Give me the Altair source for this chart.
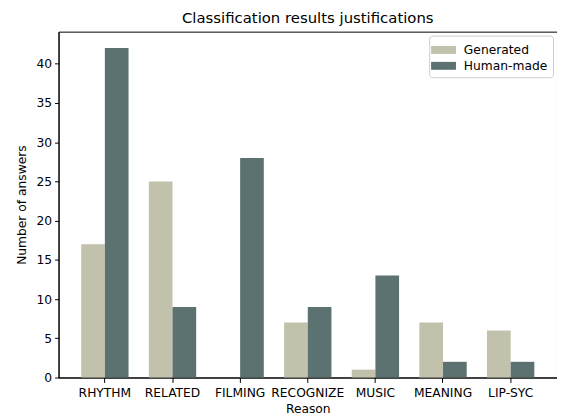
import altair as alt
import pandas as pd

reasons = ["RHYTHM", "RELATED", "FILMING", "RECOGNIZE", "MUSIC", "MEANING", "LIP-SYC"]
generated = [17, 25, 0, 7, 1, 7, 6]
human_made = [42, 9, 28, 9, 13, 2, 2]
series = ["Generated", "Human-made"]
colors = ["#c2c2ac", "#5b7270"]

rows = []
for r, g, h in zip(reasons, generated, human_made):
    rows.append({"reason": r, "series": "Generated", "value": g})
    rows.append({"reason": r, "series": "Human-made", "value": h})
df = pd.DataFrame(rows)

font = "DejaVu Sans"
fs = 12.4

chart = alt.Chart(df).mark_bar().encode(
    x=alt.X("reason:N", sort=reasons, title="Reason",
            scale=alt.Scale(paddingInner=0.3, paddingOuter=0.335),
            axis=alt.Axis(labelAngle=0, tickSize=5, domainColor="black", tickColor="black",
                          labelColor="black", labelFontSize=fs, titleFontSize=fs,
                          titleFontWeight="normal", labelPadding=4, titlePadding=4)),
    xOffset=alt.XOffset("series:N", sort=series, scale=alt.Scale(paddingInner=0, paddingOuter=0)),
    y=alt.Y("value:Q", title="Number of answers",
            scale=alt.Scale(domain=[0, 44.1], nice=False),
            axis=alt.Axis(values=[0, 5, 10, 15, 20, 25, 30, 35, 40], grid=False, tickSize=4,
                          domainColor="black", tickColor="black", labelColor="black",
                          labelFontSize=fs, titleFontSize=fs, titleFontWeight="normal",
                          labelPadding=3, titlePadding=8)),
    color=alt.Color("series:N", sort=series,
                    scale=alt.Scale(domain=series, range=colors),
                    legend=alt.Legend(title=None, orient="top-right", offset=4,
                                      fillColor="white", strokeColor="#cccccc",
                                      cornerRadius=3, padding=5,
                                      symbolType="M-1.32,-0.42H1.32V0.42H-1.32Z",
                                      symbolSize=361, symbolStrokeWidth=0, symbolOpacity=1,
                                      labelFontSize=fs, labelColor="black", rowPadding=0,
                                      labelOffset=11)),
).properties(
    width=503, height=349,
    autosize=alt.AutoSizeParams(type="none"),
    padding={"left": 51, "top": 22, "right": 0, "bottom": 38},
    title=alt.TitleParams("Classification results justifications", fontSize=15,
                          fontWeight="normal", font=font, color="black", offset=6),
).configure(font=font).configure_view(stroke="black", strokeWidth=1).configure_axis(
    labelFont=font, titleFont=font, domainWidth=1
).configure_legend(labelFont=font)

chart.save("out.html", embed_options={"renderer": "svg", "actions": False})
